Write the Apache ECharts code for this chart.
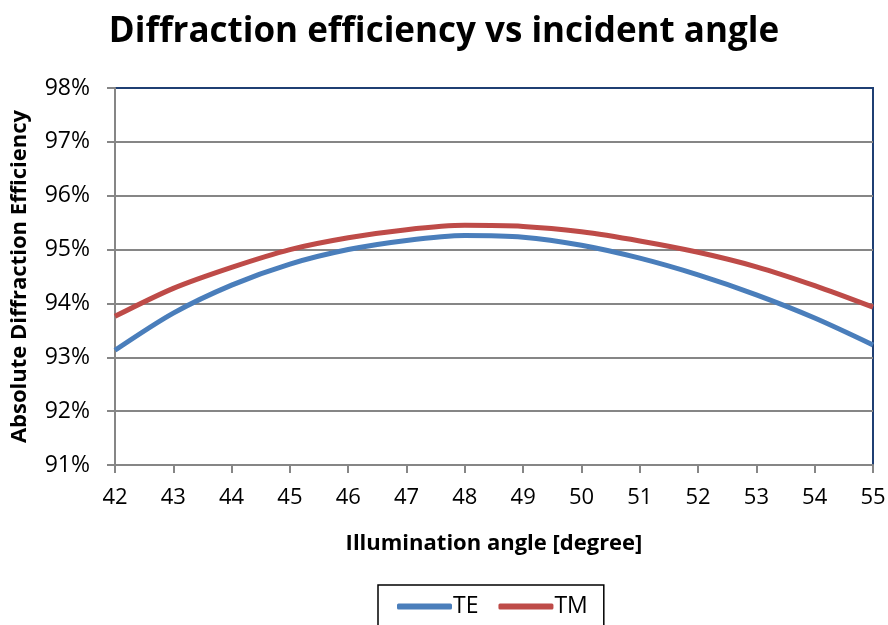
<!DOCTYPE html>
<html>
<head>
<meta charset="utf-8">
<title>Diffraction efficiency vs incident angle</title>
<script src="https://cdn.jsdelivr.net/npm/echarts@6/dist/echarts.min.js"></script>
<style>
  html, body { margin: 0; padding: 0; background: #fff; }
  #chart { width: 888px; height: 625px; }
</style>
</head>
<body>
<div id="chart"></div>
<script>
// 入射角 (degree)
const angles = [42, 43, 44, 45, 46, 47, 48, 49, 50, 51, 52, 53, 54, 55];
// efficiency in %
const teValues = [93.13, 93.82, 94.34, 94.73, 95.0, 95.17, 95.26, 95.23, 95.08, 94.84, 94.53, 94.16, 93.73, 93.23];
const tmValues = [93.76, 94.28, 94.67, 95.0, 95.22, 95.37, 95.45, 95.43, 95.33, 95.16, 94.95, 94.68, 94.33, 93.93];
const seriesNames = ['TE', 'TM'];

const font = '"Open Sans", "DejaVu Sans", sans-serif';
const chart = echarts.init(document.getElementById('chart'));

const option = {
  backgroundColor: '#fff',
  animation: false,
  title: {
    text: 'Diffraction efficiency vs incident angle',
    left: 'center',
    top: 10,
    textStyle: { fontFamily: font, fontSize: 35, fontWeight: 'bold', color: '#000' },
  },
  grid: {
    left: 115,
    right: 15,
    top: 88,
    bottom: 160,
    outerBoundsMode: 'none',
    show: true,
    borderColor: '#1f3f73',
    borderWidth: 2,
  },
  legend: {
    top: 585,
    left: 378,
    data: seriesNames,
    icon: 'roundRect',
    itemWidth: 55,
    itemHeight: 6,
    itemGap: 20,
    padding: [10, 16, 10, 19],
    borderColor: '#000',
    borderWidth: 1.5,
    textStyle: { fontFamily: font, fontSize: 23, color: '#000', padding: [0, 0, 0, -4] },
  },
  xAxis: {
    type: 'value',
    min: 42,
    max: 55,
    interval: 1,
    name: 'Illumination angle [degree]',
    nameLocation: 'middle',
    nameGap: 68,
    nameTextStyle: { fontFamily: font, fontSize: 22, fontWeight: 'bold', color: '#000' },
    axisLine: { lineStyle: { color: '#868686', width: 2 } },
    axisTick: { show: true, length: 8, lineStyle: { color: '#868686', width: 2 } },
    axisLabel: { fontFamily: font, fontSize: 22, color: '#000', margin: 22 },
    splitLine: { show: false },
  },
  yAxis: {
    type: 'value',
    min: 91,
    max: 98,
    interval: 1,
    name: 'Absolute Diffraction Efficiency',
    nameLocation: 'middle',
    nameGap: 84,
    nameTextStyle: { fontFamily: font, fontSize: 22, fontWeight: 'bold', color: '#000' },
    axisLine: { show: true, lineStyle: { color: '#868686', width: 2 } },
    axisTick: { show: true, length: 8, lineStyle: { color: '#868686', width: 2 } },
    axisLabel: { fontFamily: font, fontSize: 23, color: '#000', margin: 25, formatter: '{value}%' },
    splitLine: { show: true, showMaxLine: false, lineStyle: { color: '#868686', width: 2 } },
  },
  series: [
    {
      name: 'TE',
      type: 'line',
      smooth: 0.3,
      symbol: 'none',
      color: '#4a7ebb',
      lineStyle: { width: 5, color: '#4a7ebb' },
      data: angles.map((a, i) => [a, teValues[i]]),
    },
    {
      name: 'TM',
      type: 'line',
      smooth: 0.3,
      symbol: 'none',
      color: '#be4b48',
      lineStyle: { width: 5, color: '#be4b48' },
      data: angles.map((a, i) => [a, tmValues[i]]),
    },
  ],
};

chart.setOption(option);
</script>
</body>
</html>
